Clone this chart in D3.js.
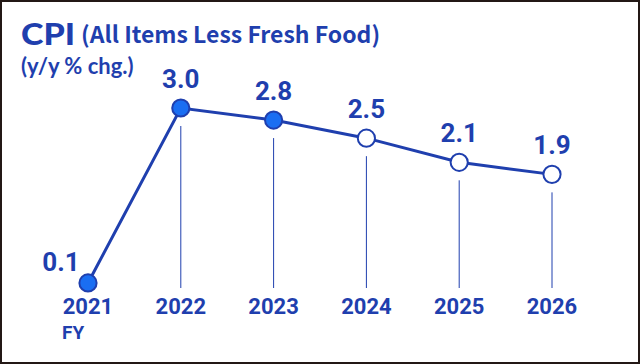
<!DOCTYPE html>
<html><head><meta charset="utf-8">
<script src="https://cdn.jsdelivr.net/npm/d3@7"></script>
<style>
html,body{margin:0;padding:0;background:#fff;}
svg{display:block;}
</style></head>
<body>
<script>
const years = ["2021","2022","2023","2024","2025","2026"];
const values = [0.1, 3.0, 2.8, 2.5, 2.1, 1.9];
const forecast = [false, false, false, true, true, true];
const valueLabels = ["0.1","3.0","2.8","2.5","2.1","1.9"];

const W = 640, H = 364;
const blue = "#1f3fae";
const fillBlue = "#1a6ef2";
const svg = d3.select("body").append("svg").attr("width", W).attr("height", H);

svg.append("rect").attr("x",1).attr("y",1).attr("width",W-2).attr("height",H-2)
  .attr("fill","#fff").attr("stroke","#231815").attr("stroke-width",2);

const x = d3.scalePoint().domain(years).range([88, 552]);
const y = d3.scaleLinear().domain([0, 3.0]).range([289, 108]);

const font = "'Noto Sans CJK JP', 'Noto Sans', sans-serif";
const font2 = "Lato, 'Noto Sans', sans-serif";
const numFont = "Roboto, 'Noto Sans', sans-serif";

// Title
svg.append("text").attr("x",21).attr("y",45).attr("fill",blue)
  .attr("font-family",font2).attr("font-weight",900).attr("font-size",30)
  .attr("textLength",54).attr("lengthAdjust","spacingAndGlyphs").text("CPI");
svg.append("text").attr("x",81).attr("y",43).attr("fill",blue)
  .attr("font-family",font).attr("font-weight",700).attr("font-size",23).text("(All Items Less Fresh Food)");
svg.append("text").attr("x",21).attr("y",74).attr("fill",blue)
  .attr("font-family",font2).attr("font-weight",700).attr("font-size",22).text("(y/y % chg.)");

const data = years.map((yr,i)=>({yr, v: values[i], f: forecast[i], lab: valueLabels[i]}));

// vertical guide lines
svg.selectAll("line.guide").data(data.filter(d=>d.yr!=="2021")).enter().append("line")
  .attr("x1", d=>x(d.yr)).attr("x2", d=>x(d.yr))
  .attr("y1", d=>y(d.v)+18).attr("y2", 288)
  .attr("stroke", blue).attr("stroke-width",1);

// line
svg.append("path").datum(data)
  .attr("d", d3.line().x(d=>x(d.yr)).y(d=>y(d.v)))
  .attr("fill","none").attr("stroke",blue).attr("stroke-width",3);

// points
svg.selectAll("circle.pt").data(data).enter().append("circle")
  .attr("cx", d=>x(d.yr)).attr("cy", d=>y(d.v)).attr("r",8.6)
  .attr("fill", d=>d.f ? "#fff" : fillBlue)
  .attr("stroke", blue).attr("stroke-width",2);

// value labels
svg.selectAll("text.val").data(data).enter().append("text")
  .attr("x", d=> d.yr==="2021" ? x(d.yr)-27 : x(d.yr))
  .attr("y", d=> d.yr==="2021" ? y(d.v)-12 : y(d.v)-20)
  .attr("text-anchor","middle").attr("fill",blue)
  .attr("font-family",numFont).attr("font-weight",700).attr("font-size",26)
  .text(d=>d.lab);

// year labels
svg.selectAll("text.yr").data(data).enter().append("text")
  .attr("x", d=>x(d.yr)).attr("y", 314)
  .attr("text-anchor","middle").attr("fill",blue)
  .attr("font-family",numFont).attr("font-weight",700).attr("font-size",22)
  .text(d=>d.yr);
svg.append("text").attr("x", 62).attr("y",339).attr("fill",blue)
  .attr("font-family",numFont).attr("font-weight",700).attr("font-size",19).text("FY");
</script>
</body></html>
